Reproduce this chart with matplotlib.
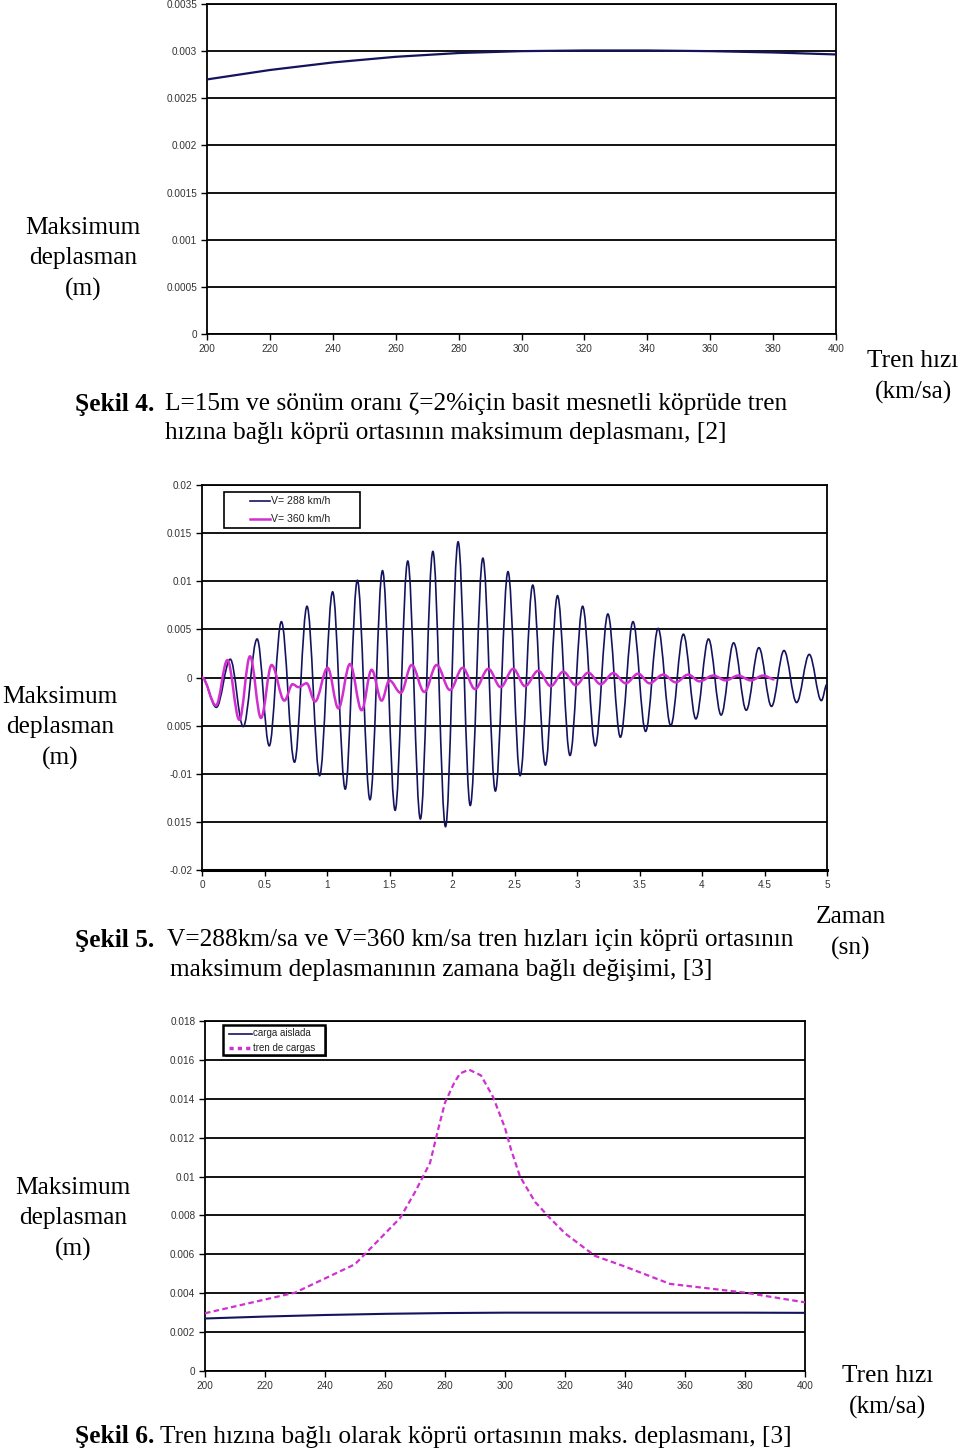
import matplotlib
matplotlib.use('Agg')
import matplotlib.pyplot as plt
from matplotlib.path import Path
from matplotlib.patches import PathPatch, Rectangle
from matplotlib.lines import Line2D

# ---- data read from the scanned page ----
# Sekil 4: max displacement vs train speed (L=15m, zeta=2%)
speed4 = [200, 220, 240, 260, 280, 300, 320, 340, 360, 380, 400]
disp4 = [0.00270, 0.00280, 0.00288, 0.00294, 0.00298, 0.00300,
         0.003007, 0.003007, 0.00300, 0.002986, 0.002965]

# Sekil 5: mid-span displacement vs time (extrema)
t_288 = [0.0, 0.115, 0.226, 0.330, 0.441, 0.538, 0.635, 0.740, 0.840, 0.941,
         1.045, 1.146, 1.243, 1.344, 1.444, 1.545, 1.646, 1.747, 1.847, 1.948,
         2.049, 2.146, 2.247, 2.347, 2.448, 2.545, 2.646, 2.747, 2.844, 2.944,
         3.045, 3.146, 3.247, 3.347, 3.448, 3.549, 3.649, 3.750, 3.851, 3.951,
         4.052, 4.153, 4.253, 4.354, 4.455, 4.556, 4.656, 4.757, 4.858, 4.955,
         5.0]
d_288 = [0.0, -0.0031, 0.0019, -0.0051, 0.0040, -0.0071, 0.0058, -0.0088,
         0.0074, -0.0102, 0.0089, -0.0116, 0.0101, -0.0127, 0.0111, -0.0138,
         0.0121, -0.0147, 0.0131, -0.0155, 0.0141, -0.0133, 0.0124, -0.0118,
         0.0110, -0.0102, 0.0096, -0.0091, 0.0085, -0.0081, 0.0074, -0.0071,
         0.0066, -0.0062, 0.0058, -0.0056, 0.0051, -0.0050, 0.0045, -0.0043,
         0.0040, -0.0039, 0.0036, -0.0034, 0.0031, -0.0030, 0.0028, -0.0026,
         0.0024, -0.0024, -0.0007]

t_360 = [0.0, 0.112, 0.203, 0.299, 0.384, 0.472, 0.557, 0.659, 0.725, 0.771,
         0.837, 0.904, 1.005, 1.091, 1.184, 1.277, 1.357, 1.437, 1.499, 1.590,
         1.677, 1.779, 1.877, 1.984, 2.085, 2.184, 2.291, 2.389, 2.490, 2.584,
         2.690, 2.790, 2.890, 2.990, 3.090, 3.190, 3.290, 3.390, 3.490, 3.580,
         3.690, 3.790, 3.890, 3.980, 4.090, 4.190, 4.290, 4.390, 4.490, 4.580]
d_360 = [0.0, -0.0029, 0.0018, -0.0044, 0.0022, -0.0042, 0.0013, -0.0024,
         -0.0007, -0.0010, -0.0006, -0.0025, 0.0010, -0.0032, 0.0014, -0.0034,
         0.0008, -0.0024, -0.0003, -0.0016, 0.0013, -0.0015, 0.0013, -0.0013,
         0.0010, -0.0012, 0.0009, -0.0010, 0.0009, -0.0009, 0.0007, -0.0009,
         0.0006, -0.0008, 0.0005, -0.0007, 0.00045, -0.0006, 0.0004, -0.0006,
         0.0003, -0.0005, 0.0003, -0.0004, 0.0002, -0.0003, 0.0002, -0.0003,
         0.0002, -0.0002]

# Sekil 6: max displacement vs train speed, single load vs load train
speed6_single = [200, 220, 240, 260, 280, 300, 320, 340, 360, 380, 400]
disp6_single = [0.00270, 0.00280, 0.00288, 0.00294, 0.00298, 0.00300,
                0.00300, 0.00300, 0.00300, 0.00300, 0.00299]
speed6_train = [200, 230, 250, 265, 270, 275, 278, 280, 283, 285, 288, 292,
                296, 300, 302, 305, 310, 315, 320, 330, 340, 355, 380, 400]
disp6_train = [0.00297, 0.00403, 0.00549, 0.00786, 0.0092, 0.0107, 0.0126,
               0.0138, 0.0148, 0.0153, 0.0155, 0.0152, 0.0141, 0.0125, 0.0114,
               0.0100, 0.0087, 0.00786, 0.00708, 0.00592, 0.00537, 0.00448,
               0.00403, 0.00353]

# ---- figure ----
W, H = 960, 1450
fig = plt.figure(figsize=(9.6, 14.5), dpi=100)
fig.patch.set_facecolor('white')

NAVY = '#14145e'
MAGENTA = '#d030d0'
TICK_FONT = 'Liberation Sans'
SERIF = 'Liberation Serif'
CAP_SIZE = 18.3


def px_axes(left, top, right, bottom):
    return fig.add_axes([left / W, 1 - bottom / H, (right - left) / W, (bottom - top) / H])


def fx(x):
    return x / W


def fy(y):
    return 1 - y / H


def txt(x, y, s, **kw):
    kw.setdefault('family', SERIF)
    kw.setdefault('fontsize', CAP_SIZE)
    kw.setdefault('va', 'center')
    fig.text(fx(x), fy(y), s, **kw)


def style_axes(ax, yticks, ylabels, xticks, xlabels):
    ax.set_yticks(yticks)
    ax.set_yticklabels(ylabels, family=TICK_FONT, fontsize=7.2, color='#333333')
    ax.set_xticks(xticks)
    ax.set_xticklabels(xlabels, family=TICK_FONT, fontsize=7.2, color='#333333')
    ax.tick_params(length=4, width=1, color='black', pad=3)
    for y in yticks:
        ax.axhline(y, color='black', lw=1.3, zorder=1)
    for sp in ax.spines.values():
        sp.set_color('black')
        sp.set_linewidth(1.3)


def smooth_path(ts, ds, k=0.36):
    # smoothed line through the read points (like Excel's smoothed line)
    verts = [(ts[0], ds[0])]
    codes = [Path.MOVETO]
    for i in range(len(ts) - 1):
        dt = ts[i + 1] - ts[i]
        verts += [(ts[i] + k * dt, ds[i]), (ts[i + 1] - k * dt, ds[i + 1]), (ts[i + 1], ds[i + 1])]
        codes += [Path.CURVE4] * 3
    return Path(verts, codes)


def legend_box(x0, y0, x1, y1, lw, shadow=False):
    if shadow:
        fig.patches.append(Rectangle((fx(x0 + 2), fy(y1 + 2)), (x1 - x0) / W, (y1 - y0) / H,
                                     transform=fig.transFigure, facecolor='#555555',
                                     edgecolor='none', zorder=20))
    fig.patches.append(Rectangle((fx(x0), fy(y1)), (x1 - x0) / W, (y1 - y0) / H,
                                 transform=fig.transFigure, facecolor='white',
                                 edgecolor='black', lw=lw, zorder=21))


def legend_entry(x0, x1, y, label, size, **line_kw):
    fig.lines.append(Line2D([fx(x0), fx(x1)], [fy(y), fy(y)], transform=fig.transFigure,
                            zorder=22, **line_kw))
    fig.text(fx(x1 + 1), fy(y), label, family=TICK_FONT, fontsize=size, color='#222222',
             va='center', ha='left', zorder=22)


# top chart
ax1 = px_axes(207, 4, 836, 334)
ax1.plot(speed4, disp4, color=NAVY, lw=1.6, zorder=3)
ax1.set_xlim(200, 400)
ax1.set_ylim(0, 0.0035)
yt = [0, 0.0005, 0.001, 0.0015, 0.002, 0.0025, 0.003, 0.0035]
style_axes(ax1, yt, ['0', '0.0005', '0.001', '0.0015', '0.002', '0.0025', '0.003', '0.0035'],
           list(range(200, 401, 20)), [str(v) for v in range(200, 401, 20)])

# middle chart
ax2 = px_axes(202, 485, 827, 870)
ax2.add_patch(PathPatch(smooth_path(t_288, d_288), facecolor='none', edgecolor=NAVY,
                        lw=1.2, zorder=3))
ax2.add_patch(PathPatch(smooth_path(t_360, d_360), facecolor='none', edgecolor=MAGENTA,
                        lw=1.8, zorder=4))
ax2.set_xlim(0, 5)
ax2.set_ylim(-0.02, 0.02)
yt = [-0.02, -0.015, -0.01, -0.005, 0, 0.005, 0.01, 0.015, 0.02]
style_axes(ax2, yt, ['-0.02', '0.015', '-0.01', '0.005', '0', '0.005', '0.01', '0.015', '0.02'],
           [0, 0.5, 1, 1.5, 2, 2.5, 3, 3.5, 4, 4.5, 5],
           ['0', '0.5', '1', '1.5', '2', '2.5', '3', '3.5', '4', '4.5', '5'])
ax2.spines['bottom'].set_linewidth(2.2)

legend_box(224, 492, 360, 528, 1.2)
legend_entry(250, 270, 501.5, 'V= 288 km/h', 7.6, color=NAVY, lw=1.2)
legend_entry(250, 270, 519, 'V= 360 km/h', 7.6, color=MAGENTA, lw=1.8)

# bottom chart
ax3 = px_axes(205, 1021, 805, 1371)
ax3.plot(speed6_single, disp6_single, color=NAVY, lw=1.5, zorder=3)
ax3.plot(speed6_train, disp6_train, color=MAGENTA, lw=1.6, ls=(0, (2.5, 1.5)), zorder=4)
ax3.set_xlim(200, 400)
ax3.set_ylim(0, 0.018)
yt = [0, 0.002, 0.004, 0.006, 0.008, 0.01, 0.012, 0.014, 0.016, 0.018]
style_axes(ax3, yt, ['0', '0.002', '0.004', '0.006', '0.008', '0.01', '0.012', '0.014', '0.016', '0.018'],
           list(range(200, 401, 20)), [str(v) for v in range(200, 401, 20)])

legend_box(223, 1025, 325, 1055, 1.8, shadow=True)
legend_entry(229, 252, 1033.5, 'carga aislada', 7.0, color=NAVY, lw=1.2)
legend_entry(229, 252, 1048, 'tren de cargas', 7.0, color=MAGENTA, lw=2.5, ls=(0, (1.2, 1.2)))

# ---- page text ----
LS = 1.46
txt(83, 259, 'Maksimum\ndeplasman\n(m)', ha='center', multialignment='center', linespacing=LS)
txt(913, 377, 'Tren hızı\n(km/sa)', ha='center', multialignment='center', linespacing=LS)
txt(75, 404, 'Şekil 4.', ha='left', weight='bold')
txt(165, 404, 'L=15m ve sönüm oranı ζ=2%için basit mesnetli köprüde tren', ha='left')
txt(165, 433, 'hızına bağlı köprü ortasının maksimum deplasmanı, [2]', ha='left')

txt(60, 728, 'Maksimum\ndeplasman\n(m)', ha='center', multialignment='center', linespacing=LS)
txt(851, 933, 'Zaman\n(sn)', ha='center', multialignment='center', linespacing=LS)
txt(75, 940, 'Şekil 5.', ha='left', weight='bold')
txt(167, 940, 'V=288km/sa ve V=360 km/sa tren hızları için köprü ortasının', ha='left')
txt(170, 970, 'maksimum deplasmanının zamana bağlı değişimi, [3]', ha='left')

txt(73, 1219, 'Maksimum\ndeplasman\n(m)', ha='center', multialignment='center', linespacing=LS)
txt(888, 1392, 'Tren hızı\n(km/sa)', ha='center', multialignment='center', linespacing=LS)
txt(75, 1437, 'Şekil 6.', ha='left', weight='bold')
txt(160, 1437, 'Tren hızına bağlı olarak köprü ortasının maks. deplasmanı, [3]', ha='left')

fig.savefig('out.png', dpi=100)
